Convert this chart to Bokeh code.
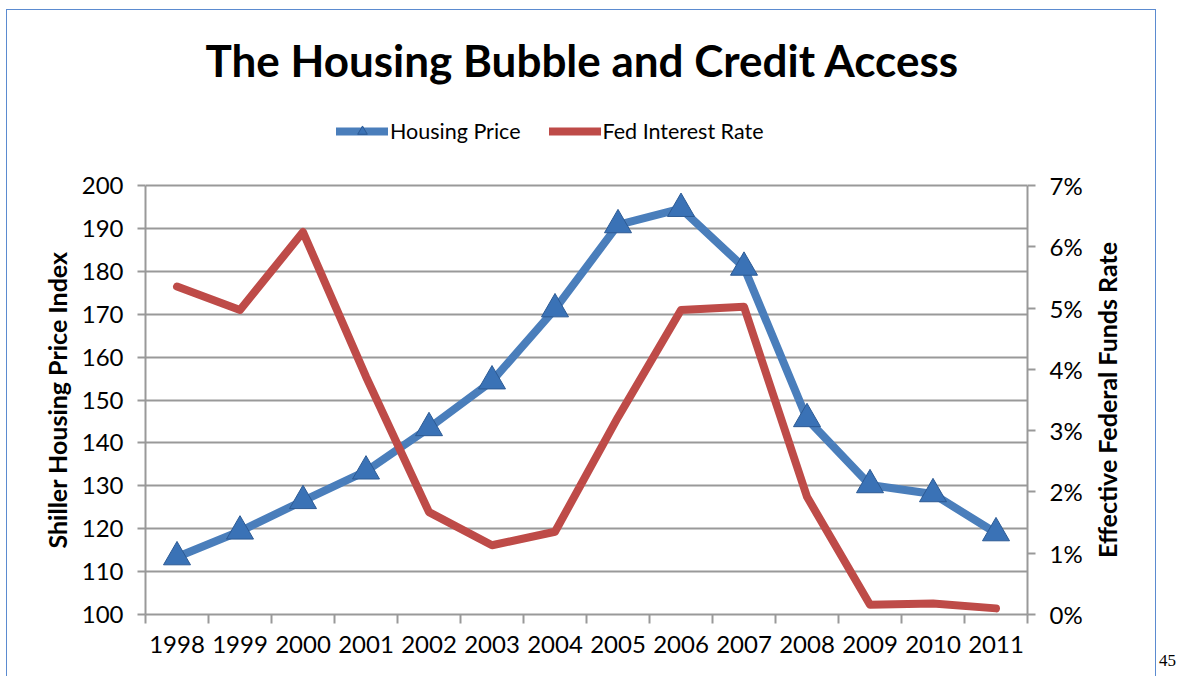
import math
from bokeh.plotting import figure
from bokeh.models import (Range1d, LinearAxis, FixedTicker, Legend, LegendItem,
                          PrintfTickFormatter, Div, Label)
from bokeh.layouts import row
from bokeh.embed import file_html
from bokeh.resources import INLINE

years = ["1998", "1999", "2000", "2001", "2002", "2003", "2004",
         "2005", "2006", "2007", "2008", "2009", "2010", "2011"]
housing_price = [113.4, 119.4, 126.5, 133.4, 143.5, 154.4, 171.2,
                 190.8, 194.6, 180.9, 145.6, 130.2, 128.1, 119.0]
fed_rate = [5.35, 4.97, 6.24, 3.88, 1.67, 1.13, 1.35,
            3.22, 4.97, 5.02, 1.92, 0.16, 0.18, 0.10]
left_ticks = [100, 110, 120, 130, 140, 150, 160, 170, 180, 190, 200]
right_ticks = [0, 1, 2, 3, 4, 5, 6, 7]

FONT = "Lato"
GRID = "#999999"
BLUE = "#4A7EBB"
RED = "#BE4B48"

# layout: the data area is 429 px tall; the frame extends above it to hold
# the title and legend (axes are bounded to the data area)
PLOT_H = 429
FRAME_H = 584
scale = FRAME_H / PLOT_H
y_end = left_ticks[0] + (left_ticks[-1] - left_ticks[0]) * scale
r_end = right_ticks[0] + (right_ticks[-1] - right_ticks[0]) * scale
y_mid = (left_ticks[0] + left_ticks[-1]) / 2

x = [i + 0.5 for i in range(len(years))]

p = figure(width=1150, height=667, x_range=Range1d(0, len(years)),
           y_range=Range1d(left_ticks[0], y_end),
           output_backend="svg", toolbar_location=None,
           min_border_left=138, min_border_right=130,
           min_border_top=20, min_border_bottom=63)
p.outline_line_color = None
p.background_fill_color = "white"
p.border_fill_color = "white"
p.margin = (9, 0, 0, 6)
p.styles = {"border-left": "1px solid #5B8BD0", "border-top": "1px solid #5B8BD0",
            "border-right": "1px solid #5B8BD0"}

# grid
p.xgrid.grid_line_color = None
p.ygrid.grid_line_color = GRID
p.ygrid.grid_line_width = 2
p.ygrid.ticker = FixedTicker(ticks=left_ticks)

TICK_FS = "24px"

# x axis
xa = p.xaxis[0]
xa.ticker = FixedTicker(ticks=x, minor_ticks=list(range(len(years) + 1)))
xa.major_label_overrides = {float(xi): y for xi, y in zip(x, years)}
xa.major_tick_out = 0
xa.major_tick_in = 0
xa.minor_tick_out = 9
xa.minor_tick_in = 0
xa.minor_tick_line_color = GRID
xa.minor_tick_line_width = 2
xa.axis_line_color = GRID
xa.axis_line_width = 2
xa.major_label_standoff = 12
xa.major_label_text_font = FONT
xa.major_label_text_font_size = TICK_FS
xa.major_label_text_color = "black"

# left axis
ya = p.yaxis[0]
ya.ticker = FixedTicker(ticks=left_ticks)
ya.bounds = (left_ticks[0], left_ticks[-1])
ya.major_tick_out = 8
ya.major_tick_in = 0
ya.minor_tick_out = 0
ya.minor_tick_in = 0
ya.major_tick_line_color = GRID
ya.major_tick_line_width = 2
ya.axis_line_color = GRID
ya.axis_line_width = 2
ya.major_label_standoff = 14
ya.major_label_text_font = FONT
ya.major_label_text_font_size = TICK_FS
ya.major_label_text_color = "black"

# right axis
p.extra_y_ranges = {"rate": Range1d(right_ticks[0], r_end)}
ra = LinearAxis(y_range_name="rate", ticker=FixedTicker(ticks=right_ticks),
                formatter=PrintfTickFormatter(format="%d%%"),
                bounds=(right_ticks[0], right_ticks[-1]))
ra.major_tick_out = 8
ra.major_tick_in = 0
ra.minor_tick_out = 0
ra.minor_tick_in = 0
ra.major_tick_line_color = GRID
ra.major_tick_line_width = 2
ra.axis_line_color = GRID
ra.axis_line_width = 2
ra.major_label_standoff = 14
ra.major_label_text_font = FONT
ra.major_label_text_font_size = TICK_FS
ra.major_label_text_color = "black"
p.add_layout(ra, "right")

# axis titles, centred on the bounded data area
p.add_layout(Label(x=8, y=y_mid, x_units="screen", y_units="data",
                   angle=math.pi / 2, text="Shiller Housing Price Index",
                   text_align="center", text_baseline="middle",
                   text_font=FONT, text_font_style="bold",
                   text_font_size="25px", text_color="black"), "left")
p.add_layout(Label(x=21, y=y_mid, x_units="screen", y_units="data",
                   angle=math.pi / 2, text="Effective Federal Funds Rate",
                   text_align="center", text_baseline="middle",
                   text_font=FONT, text_font_style="bold",
                   text_font_size="25px", text_color="black"), "right")

# series
lh = p.line(x, housing_price, line_color=BLUE, line_width=8,
            line_join="round", line_cap="round")
mh = p.scatter(x, housing_price, marker="triangle", size=27,
               fill_color="#3A72B6", line_color="#2C5A94", line_width=1)
lr = p.line(x, fed_rate, y_range_name="rate", line_color=RED, line_width=8,
            line_join="round", line_cap="round")

legend = Legend(items=[LegendItem(label="Housing Price", renderers=[lh, mh]),
                       LegendItem(label="Fed Interest Rate", renderers=[lr])],
                location=(191, 470), orientation="horizontal")
legend.label_text_font = FONT
legend.label_text_font_size = "21.5px"
legend.label_text_color = "black"
legend.glyph_width = 52
legend.glyph_height = 24
legend.label_height = 24
legend.label_standoff = 2
legend.spacing = 28
legend.padding = 0
legend.margin = 0
legend.border_line_color = None
legend.background_fill_alpha = 0
p.add_layout(legend, "center")

p.add_layout(Label(x=437, y=555, x_units="screen", y_units="screen",
                   text="The Housing Bubble and Credit Access",
                   text_align="center", text_baseline="alphabetic",
                   text_font=FONT, text_font_style="bold",
                   text_font_size="44px", text_color="black"))

page_no = Div(text="45", width=16, height=18, margin=(652, 0, 0, 3),
              styles={"font-family": "Liberation Serif", "font-size": "17px",
                      "line-height": "17px", "color": "black"})

layout = row(p, page_no)
open("out.html", "w").write(file_html(layout, INLINE))
